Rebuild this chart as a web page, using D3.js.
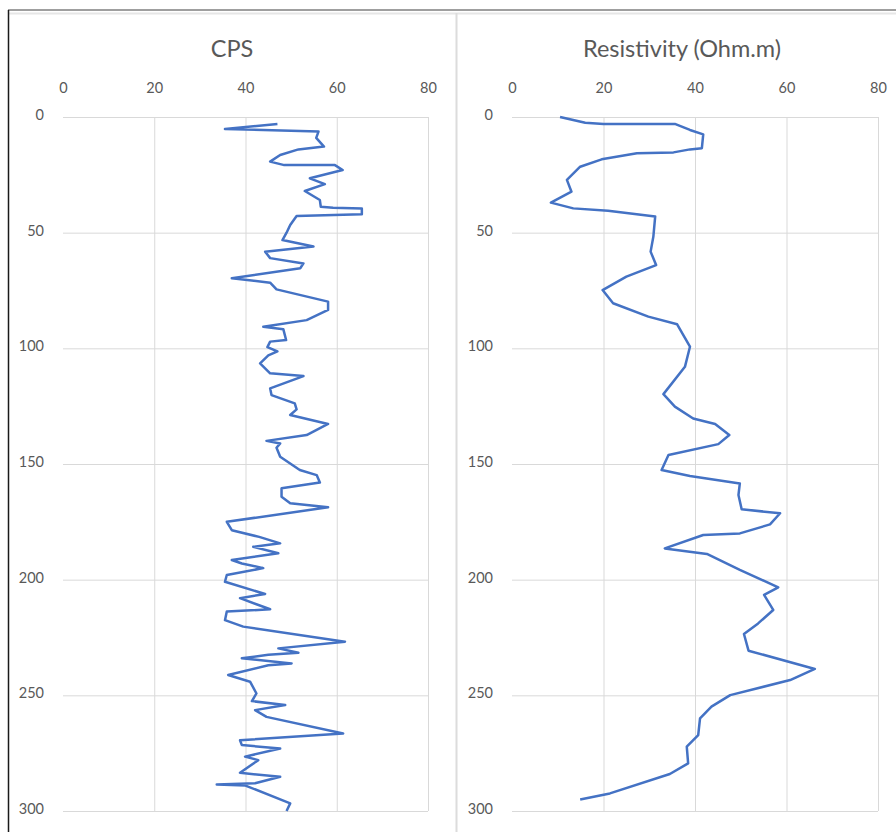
<!DOCTYPE html>
<html>
<head>
<meta charset="utf-8">
<script src="https://cdn.jsdelivr.net/npm/d3@7"></script>
<style>
  body { margin: 0; background: #fff; }
  text { font-family: Lato, "Open Sans", sans-serif; fill: #595959; }
</style>
</head>
<body>
<div id="chart"></div>
<script>
// Depth (m) and reading for each log
var cpsDepth = [3, 5.2, 6.3, 9, 12.8, 14, 16.4, 19.3, 20.8, 20.8, 22.9, 26.5, 29, 32, 35.9, 38.8, 39.2, 39.6, 42, 42.8,
  46.7, 50, 53.2, 56, 58.2, 61, 63.3, 65.4, 69.7, 71.6, 74.5, 79.8, 83.4, 87.8, 90.7, 91.8, 96.4, 97.1, 99.5, 101.3,
  103, 106.5, 110.8, 112, 117.3, 120.2, 123.8, 126.4, 128.8, 132.7, 137.5, 140, 141.1, 143, 146.9, 152.6, 154.8, 158, 160.5, 164.2,
  167, 168.7, 175, 178.6, 181.5, 184.3, 185.8, 188.6, 191.5, 193, 195, 198, 200.9, 206.2, 208, 212.8, 213.8, 217.5, 220.3, 226.8,
  229.7, 231.6, 232.5, 234, 236.2, 237, 241.2, 244.1, 249.2, 252.5, 254.2, 256.4, 259.3, 266.5, 269.4, 271.5, 273, 276.5, 278, 283.5,
  285.2, 288, 288.5, 289, 296.7, 300];
var cpsValue = [47, 35.5, 56, 55.5, 57.2, 51.6, 47.6, 45.4, 48.5, 59.6, 61.3, 54.1, 57.4, 53, 56.3, 56.5, 59.2, 65.5, 65.5, 51.2,
  49.8, 49, 48.1, 54.9, 44.3, 45.4, 52.7, 52, 37, 45.4, 46.8, 58.1, 58.1, 53.4, 43.9, 48.3, 48.9, 45.4, 44.8, 47,
  45, 43.2, 45.4, 52.7, 45.4, 45.7, 50.8, 51.2, 49.8, 58.1, 53.4, 44.6, 47.6, 46.8, 47.6, 51.9, 55.6, 56.3, 47.9, 47.9,
  49.8, 58.1, 35.9, 37, 43, 47.6, 41.7, 47.2, 37, 39.2, 43.9, 35.9, 35.5, 44.3, 38.8, 45.4, 35.9, 35.5, 39.5, 61.8,
  47.2, 51.6, 45, 39.2, 50.1, 45, 36.2, 41, 42.4, 41.4, 48.7, 42.1, 44.6, 61.4, 38.8, 39.2, 47.6, 39.9, 42.8, 38.8,
  47.6, 42.1, 33.7, 40, 49.8, 49];

var resDepth = [0, 2.5, 3, 3, 5.6, 7.5, 13.5, 14, 15.3, 15.7, 18.3, 21.5, 27.2, 32.3, 37, 39.5, 40.5, 43, 51.7, 58.2,
  64, 69, 74.8, 80.5, 86.3, 89.6, 99.3, 108, 119.8, 125.2, 130.3, 132.7, 137.5, 141.4, 146.1, 152.6, 155.2, 158.4, 163.4, 169.6,
  171.3, 176.1, 180, 180.7, 186.5, 188.9, 195.8, 203.3, 206.6, 213.1, 218.9, 223.5, 230.7, 238.6, 243.4, 249.9, 254.9, 260, 267.2, 272.2,
  279.4, 284, 292.4, 295];
var resValue = [10.5, 16, 20, 35.6, 38.9, 41.8, 41.5, 38.9, 35.3, 27.3, 19.6, 14.9, 12, 13, 8.5, 13.4, 21, 31.3, 30.9, 30.3,
  31.5, 25, 19.8, 22.1, 29.8, 36.1, 38.9, 37.8, 33.1, 35.6, 39.6, 44.4, 47.5, 45.1, 34.2, 32.7, 38.9, 49.8, 49.5, 50.2,
  58.6, 56.4, 49.8, 41.8, 33.4, 42.6, 49.8, 58.2, 55.1, 57.1, 53.8, 50.7, 51.7, 66.2, 60.8, 47.7, 43.6, 41.1, 40.7, 38.2,
  38.5, 34.5, 21.4, 14.9];

var xTicks = [0, 20, 40, 60, 80];
var yTicks = [0, 50, 100, 150, 200, 250, 300];

var width = 896, height = 832;
var svg = d3.select('#chart').append('svg')
            .attr('width', width)
            .attr('height', height);

// Frame lines of the screenshot
svg.append('line').attr('x1', 8).attr('x2', width).attr('y1', 10).attr('y2', 10)
   .attr('stroke', '#7f7f7f').attr('stroke-width', 1.5);
svg.append('line').attr('x1', 9).attr('x2', width).attr('y1', 13.5).attr('y2', 13.5)
   .attr('stroke', '#e6e6e6').attr('stroke-width', 2);
svg.append('line').attr('x1', 8.5).attr('x2', 8.5).attr('y1', 10).attr('y2', height)
   .attr('stroke', '#1a1a1a').attr('stroke-width', 1.5);
svg.append('line').attr('x1', 456.5).attr('x2', 456.5).attr('y1', 13).attr('y2', height)
   .attr('stroke', '#dcdcdc').attr('stroke-width', 2);

function drawPanel(opts) {
  var x = d3.scaleLinear().domain([0, 80]).range([opts.left, opts.right]);
  var y = d3.scaleLinear().domain([0, 300]).range([117, 811]);

  var g = svg.append('g');

  // Vertical gridlines (no line at 0)
  g.append('g')
   .attr('transform', 'translate(0,' + y(300) + ')')
   .call(d3.axisBottom(x).tickValues(xTicks.slice(1)).tickSize(y(0) - y(300)).tickFormat(''))
   .call(function(s) {
     s.select('.domain').remove();
     s.selectAll('line').attr('stroke', '#d9d9d9').attr('stroke-width', 1);
   });

  // Horizontal gridlines
  g.append('g')
   .attr('transform', 'translate(' + x(0) + ',0)')
   .call(d3.axisRight(y).tickValues(yTicks).tickSize(x(80) - x(0)).tickFormat(''))
   .call(function(s) {
     s.select('.domain').remove();
     s.selectAll('line').attr('stroke', '#d9d9d9').attr('stroke-width', 1);
   });

  // Top axis labels
  g.append('g')
   .attr('transform', 'translate(0,' + (y(0) - 21) + ')')
   .call(d3.axisTop(x).tickValues(xTicks).tickSize(0))
   .call(function(s) {
     s.select('.domain').remove();
     s.selectAll('text').style('font-size', '14.5px').attr('fill', '#595959');
   });

  // Left axis labels
  g.append('g')
   .attr('transform', 'translate(' + (x(0) - 16) + ',0)')
   .call(d3.axisLeft(y).tickValues(yTicks).tickSize(0))
   .call(function(s) {
     s.select('.domain').remove();
     s.selectAll('text').style('font-size', '14.5px').attr('fill', '#595959').attr('dy', '0.18em');
   });

  g.append('text')
   .attr('x', opts.titleX)
   .attr('y', 57)
   .attr('text-anchor', 'middle')
   .style('font-size', '23.5px')
   .text(opts.title);

  var pts = opts.depth.map(function(d, i) { return [opts.value[i], d]; });
  var line = d3.line()
               .x(function(d) { return x(d[0]); })
               .y(function(d) { return y(d[1]); });

  g.append('path')
   .datum(pts)
   .attr('d', line)
   .attr('fill', 'none')
   .attr('stroke', '#4472c4')
   .attr('stroke-width', 2.5)
   .attr('stroke-linejoin', 'round');
}

drawPanel({left: 63, right: 428, titleX: 232, title: 'CPS', depth: cpsDepth, value: cpsValue});
drawPanel({left: 512, right: 878, titleX: 682, title: 'Resistivity (Ohm.m)', depth: resDepth, value: resValue});
</script>
</body>
</html>
